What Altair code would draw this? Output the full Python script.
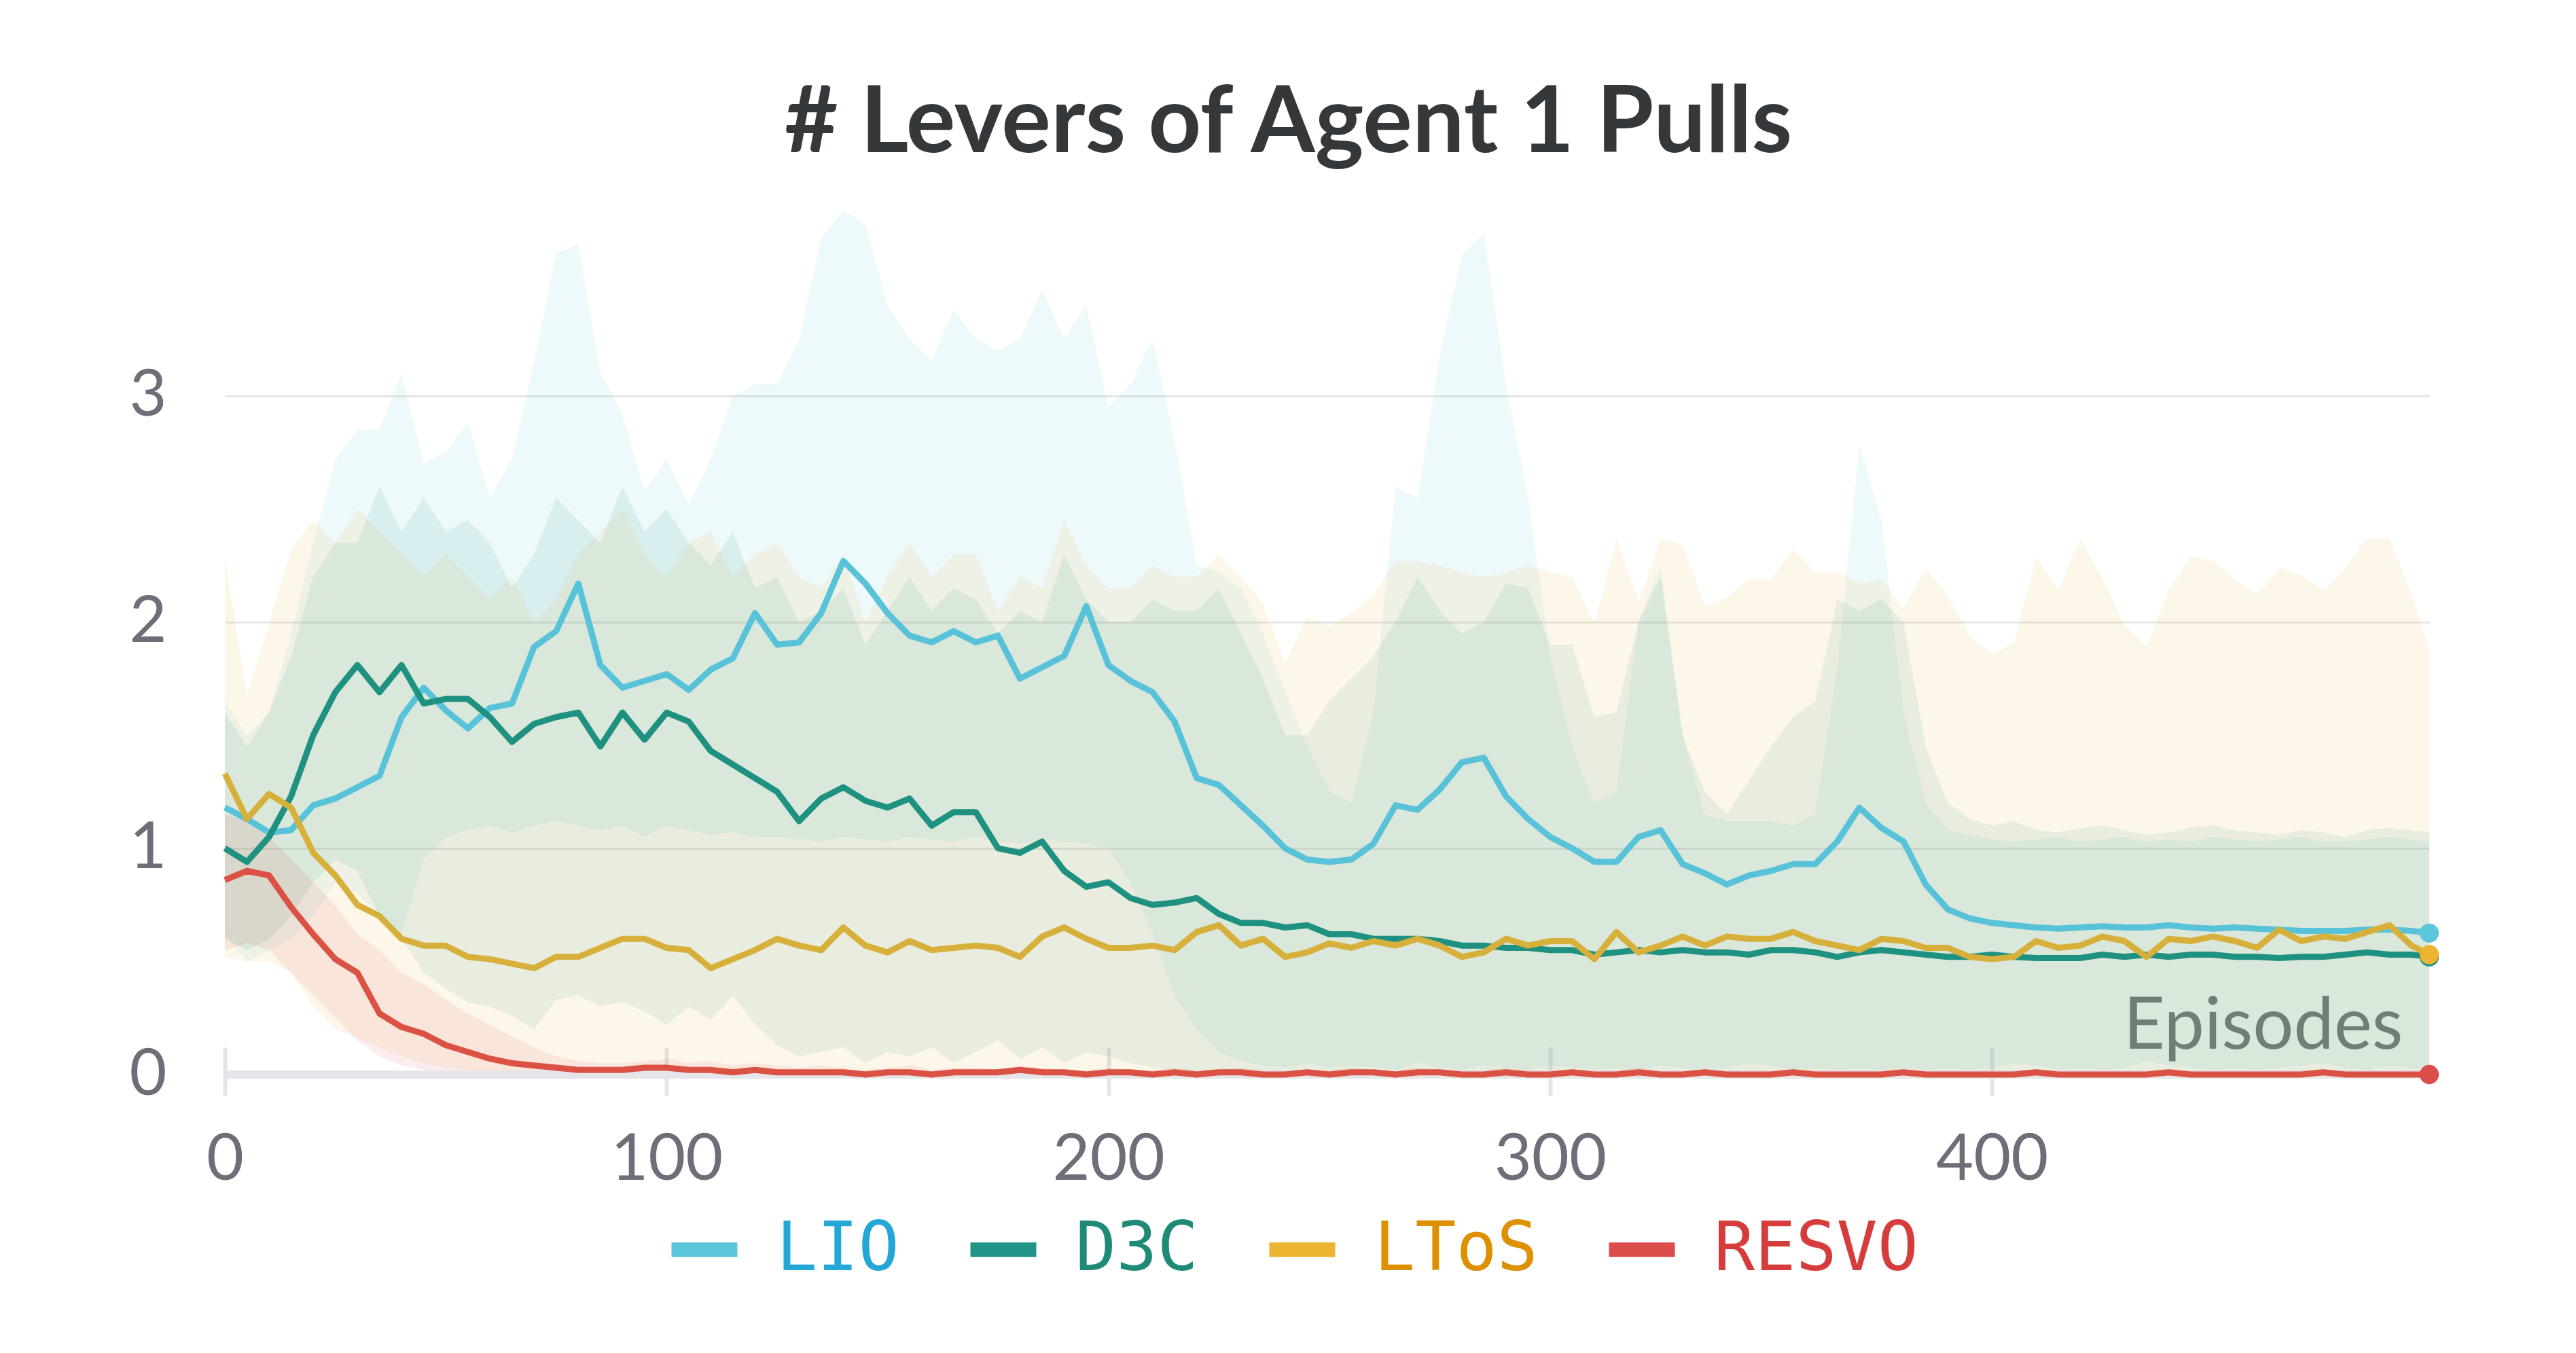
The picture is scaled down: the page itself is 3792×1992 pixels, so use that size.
import altair as alt
import pandas as pd

EPISODES = [0, 5, 10, 15, 20, 25, 30, 35, 40, 45, 50, 55, 60, 65, 70, 75, 80, 85, 90, 95,
            100, 105, 110, 115, 120, 125, 130, 135, 140, 145, 150, 155, 160, 165, 170, 175, 180, 185, 190, 195,
            200, 205, 210, 215, 220, 225, 230, 235, 240, 245, 250, 255, 260, 265, 270, 275, 280, 285, 290, 295,
            300, 305, 310, 315, 320, 325, 330, 335, 340, 345, 350, 355, 360, 365, 370, 375, 380, 385, 390, 395,
            400, 405, 410, 415, 420, 425, 430, 435, 440, 445, 450, 455, 460, 465, 470, 475, 480, 485, 490, 495,
            499]

METHODS = ["LIO", "D3C", "LToS", "RESVO"]

LIO_MEAN = [1.18, 1.13, 1.07, 1.08, 1.19, 1.22, 1.27, 1.32, 1.58, 1.71, 1.61, 1.53, 1.62, 1.64, 1.89, 1.96, 2.17, 1.81, 1.71, 1.74,
            1.77, 1.70, 1.79, 1.84, 2.04, 1.90, 1.91, 2.04, 2.27, 2.17, 2.04, 1.94, 1.91, 1.96, 1.91, 1.94, 1.75, 1.80, 1.85, 2.07,
            1.81, 1.74, 1.69, 1.56, 1.31, 1.28, 1.19, 1.10, 1.00, 0.95, 0.94, 0.95, 1.02, 1.19, 1.17, 1.26, 1.38, 1.40, 1.23, 1.13,
            1.05, 1.00, 0.94, 0.94, 1.05, 1.08, 0.93, 0.89, 0.84, 0.88, 0.90, 0.93, 0.93, 1.03, 1.18, 1.09, 1.03, 0.84, 0.73, 0.69,
            0.67, 0.66, 0.65, 0.645, 0.65, 0.655, 0.65, 0.65, 0.66, 0.65, 0.645, 0.65, 0.645, 0.64, 0.635, 0.635, 0.635, 0.64, 0.64, 0.635,
            0.625]
LIO_LO = [0.62, 0.50, 0.55, 0.60, 0.70, 0.85, 0.80, 0.70, 0.62, 0.95, 1.05, 1.08, 1.10, 1.07, 1.10, 1.12, 1.10, 1.08, 1.10, 1.05,
          1.10, 1.08, 1.06, 1.07, 1.05, 1.05, 1.04, 1.03, 1.05, 1.04, 1.03, 1.05, 1.04, 1.03, 1.05, 1.03, 1.02, 1.04, 1.03, 1.02,
          1.00, 0.85, 0.62, 0.35, 0.20, 0.10, 0.06, 0.04, 0.03, 0.05, 0.03, 0.04, 0.03, 0.02, 0.05, 0.03, 0.02, 0.04, 0.03, 0.02,
          0.04, 0.03, 0.02, 0.03, 0.02, 0.04, 0.03, 0.02, 0.03, 0.05, 0.04, 0.02, 0.03, 0.02, 0.03, 0.02, 0.03, 0.02, 0.03, 0.02,
          0.03, 0.05, 0.04, 0.02, 0.03, 0.02, 0.03, 0.06, 0.04, 0.03, 0.02, 0.03, 0.02, 0.03, 0.04, 0.05, 0.03, 0.02, 0.04, 0.03,
          0.02]
LIO_HI = [1.65, 1.50, 1.60, 1.95, 2.35, 2.72, 2.85, 2.85, 3.10, 2.70, 2.75, 2.88, 2.55, 2.72, 3.15, 3.63, 3.67, 3.10, 2.92, 2.58,
          2.72, 2.52, 2.72, 3.00, 3.05, 3.05, 3.25, 3.70, 3.82, 3.76, 3.40, 3.25, 3.16, 3.38, 3.25, 3.20, 3.25, 3.47, 3.25, 3.40,
          2.95, 3.05, 3.25, 2.80, 2.25, 2.22, 2.15, 1.95, 1.70, 1.45, 1.25, 1.20, 1.60, 2.60, 2.55, 3.18, 3.62, 3.72, 3.05, 2.55,
          1.85, 1.45, 1.20, 1.25, 2.00, 2.25, 1.50, 1.15, 1.12, 1.12, 1.12, 1.10, 1.15, 1.80, 2.78, 2.45, 1.60, 1.20, 1.08, 1.06,
          1.04, 1.03, 1.04, 1.05, 1.03, 1.04, 1.05, 1.03, 1.04, 1.03, 1.05, 1.04, 1.03, 1.04, 1.05, 1.03, 1.03, 1.04, 1.05, 1.04,
          1.03]

D3C_MEAN = [1.00, 0.94, 1.05, 1.23, 1.50, 1.69, 1.81, 1.69, 1.81, 1.64, 1.66, 1.66, 1.58, 1.47, 1.55, 1.58, 1.60, 1.45, 1.60, 1.48,
            1.60, 1.56, 1.43, 1.37, 1.31, 1.25, 1.12, 1.22, 1.27, 1.21, 1.18, 1.22, 1.10, 1.16, 1.16, 1.00, 0.98, 1.03, 0.90, 0.83,
            0.85, 0.78, 0.75, 0.76, 0.78, 0.71, 0.67, 0.67, 0.65, 0.66, 0.62, 0.62, 0.60, 0.60, 0.60, 0.59, 0.57, 0.57, 0.56, 0.56,
            0.55, 0.55, 0.53, 0.54, 0.55, 0.54, 0.55, 0.54, 0.54, 0.53, 0.55, 0.55, 0.54, 0.52, 0.54, 0.55, 0.54, 0.53, 0.52, 0.52,
            0.53, 0.52, 0.515, 0.515, 0.515, 0.53, 0.52, 0.53, 0.52, 0.53, 0.53, 0.52, 0.52, 0.515, 0.52, 0.52, 0.53, 0.54, 0.53, 0.53,
            0.52]
D3C_LO = [0.60, 0.55, 0.60, 0.70, 0.85, 0.95, 0.90, 0.70, 0.60, 0.45, 0.38, 0.32, 0.30, 0.26, 0.20, 0.33, 0.35, 0.30, 0.32, 0.28,
          0.22, 0.30, 0.24, 0.35, 0.22, 0.13, 0.08, 0.10, 0.12, 0.05, 0.10, 0.08, 0.12, 0.05, 0.10, 0.15, 0.07, 0.12, 0.05, 0.10,
          0.08, 0.05, 0.03, 0.02, 0.01, 0.0, 0.0, 0.0, 0.0, 0.0, 0.0, 0.0, 0.0, 0.0, 0.0, 0.0, 0.0, 0.0, 0.0, 0.0,
          0.0, 0.0, 0.0, 0.0, 0.0, 0.0, 0.0, 0.0, 0.0, 0.0, 0.0, 0.0, 0.0, 0.0, 0.0, 0.0, 0.0, 0.0, 0.0, 0.0,
          0.0, 0.0, 0.0, 0.0, 0.0, 0.0, 0.0, 0.0, 0.0, 0.0, 0.0, 0.0, 0.0, 0.0, 0.0, 0.0, 0.0, 0.0, 0.0, 0.0,
          0.0]
D3C_HI = [1.60, 1.45, 1.60, 1.85, 2.20, 2.35, 2.35, 2.60, 2.40, 2.55, 2.40, 2.45, 2.35, 2.15, 2.30, 2.55, 2.45, 2.35, 2.60, 2.40,
          2.50, 2.35, 2.25, 2.40, 2.15, 2.20, 2.00, 2.05, 2.15, 1.90, 2.05, 2.20, 2.05, 2.15, 2.10, 1.95, 2.05, 2.00, 2.30, 2.10,
          2.00, 2.00, 2.10, 2.05, 2.05, 2.15, 1.95, 1.75, 1.50, 1.50, 1.65, 1.75, 1.85, 2.00, 2.20, 2.05, 1.95, 2.00, 2.17, 2.15,
          1.90, 1.90, 1.58, 1.60, 2.00, 2.20, 1.50, 1.25, 1.15, 1.30, 1.45, 1.58, 1.65, 2.10, 2.05, 2.10, 2.00, 1.45, 1.20, 1.13,
          1.10, 1.12, 1.08, 1.07, 1.09, 1.10, 1.08, 1.06, 1.07, 1.09, 1.10, 1.08, 1.07, 1.06, 1.08, 1.07, 1.05, 1.08, 1.09, 1.08,
          1.07]

LTOS_MEAN = [1.33, 1.13, 1.24, 1.18, 0.98, 0.88, 0.75, 0.70, 0.60, 0.57, 0.57, 0.52, 0.51, 0.49, 0.47, 0.52, 0.52, 0.56, 0.60, 0.60,
             0.56, 0.55, 0.47, 0.51, 0.55, 0.60, 0.57, 0.55, 0.65, 0.57, 0.54, 0.59, 0.55, 0.56, 0.57, 0.56, 0.52, 0.61, 0.65, 0.60,
             0.56, 0.56, 0.57, 0.55, 0.63, 0.66, 0.57, 0.60, 0.52, 0.54, 0.58, 0.56, 0.59, 0.57, 0.60, 0.57, 0.52, 0.54, 0.60, 0.57,
             0.59, 0.59, 0.51, 0.63, 0.54, 0.57, 0.61, 0.57, 0.61, 0.60, 0.60, 0.63, 0.59, 0.57, 0.55, 0.60, 0.59, 0.56, 0.56, 0.52,
             0.51, 0.52, 0.59, 0.56, 0.57, 0.61, 0.59, 0.52, 0.60, 0.59, 0.61, 0.59, 0.56, 0.64, 0.59, 0.61, 0.60, 0.63, 0.66, 0.57,
             0.53]
LTOS_LO = [0.52, 0.50, 0.50, 0.45, 0.30, 0.20, 0.16, 0.12, 0.08, 0.05, 0.03, 0.02, 0.0, 0.0, 0.0, 0.0, 0.0, 0.0, 0.0, 0.0,
           0.0, 0.0, 0.0, 0.0, 0.0, 0.0, 0.0, 0.0, 0.0, 0.0, 0.0, 0.0, 0.0, 0.0, 0.0, 0.0, 0.0, 0.0, 0.0, 0.0,
           0.0, 0.0, 0.0, 0.0, 0.0, 0.0, 0.0, 0.0, 0.0, 0.0, 0.0, 0.0, 0.0, 0.0, 0.0, 0.0, 0.0, 0.0, 0.0, 0.0,
           0.0, 0.0, 0.0, 0.0, 0.0, 0.0, 0.0, 0.0, 0.0, 0.0, 0.0, 0.0, 0.0, 0.0, 0.0, 0.0, 0.0, 0.0, 0.0, 0.0,
           0.0, 0.0, 0.0, 0.0, 0.0, 0.0, 0.0, 0.0, 0.0, 0.0, 0.0, 0.0, 0.0, 0.0, 0.0, 0.0, 0.0, 0.0, 0.0, 0.0,
           0.0]
LTOS_HI = [2.29, 1.68, 1.99, 2.32, 2.45, 2.35, 2.50, 2.40, 2.30, 2.20, 2.30, 2.20, 2.10, 2.20, 2.00, 2.10, 2.30, 2.40, 2.50, 2.30,
           2.20, 2.35, 2.40, 2.20, 2.30, 2.35, 2.20, 2.15, 2.30, 2.00, 2.20, 2.35, 2.20, 2.30, 2.30, 2.05, 2.20, 2.15, 2.45, 2.25,
           2.15, 2.15, 2.25, 2.20, 2.20, 2.30, 2.20, 2.08, 1.82, 2.02, 1.98, 2.04, 2.12, 2.27, 2.27, 2.25, 2.22, 2.20, 2.22, 2.25,
           2.22, 2.20, 1.99, 2.37, 2.09, 2.37, 2.34, 2.07, 2.11, 2.19, 2.19, 2.32, 2.22, 2.22, 2.17, 2.19, 2.06, 2.24, 2.12, 1.94,
           1.86, 1.91, 2.29, 2.14, 2.37, 2.19, 1.99, 1.89, 2.14, 2.29, 2.27, 2.19, 2.12, 2.24, 2.21, 2.14, 2.24, 2.37, 2.37, 2.12,
           1.88]

RESVO_MEAN = [0.86, 0.90, 0.88, 0.74, 0.62, 0.51, 0.45, 0.27, 0.21, 0.18, 0.13, 0.10, 0.07, 0.05, 0.04, 0.03, 0.02, 0.02, 0.02, 0.03,
              0.03, 0.02, 0.02, 0.01, 0.02, 0.01, 0.01, 0.01, 0.01, 0.00, 0.01, 0.01, 0.00, 0.01, 0.01, 0.01, 0.02, 0.01, 0.01, 0.00,
              0.01, 0.01, 0.00, 0.01, 0.00, 0.01, 0.01, 0.00, 0.00, 0.01, 0.00, 0.01, 0.01, 0.00, 0.01, 0.01, 0.00, 0.00, 0.01, 0.00,
              0.00, 0.01, 0.00, 0.00, 0.01, 0.00, 0.00, 0.01, 0.00, 0.00, 0.00, 0.01, 0.00, 0.00, 0.00, 0.00, 0.01, 0.00, 0.00, 0.00,
              0.00, 0.00, 0.01, 0.00, 0.00, 0.00, 0.00, 0.00, 0.01, 0.00, 0.00, 0.00, 0.00, 0.00, 0.00, 0.01, 0.00, 0.00, 0.00, 0.00,
              0.00]
RESVO_LO = [0.55, 0.58, 0.55, 0.45, 0.35, 0.25, 0.15, 0.08, 0.04, 0.02, 0.0, 0.0, 0.0, 0.0, 0.0, 0.0, 0.0, 0.0, 0.0, 0.0,
            0.0, 0.0, 0.0, 0.0, 0.0, 0.0, 0.0, 0.0, 0.0, 0.0, 0.0, 0.0, 0.0, 0.0, 0.0, 0.0, 0.0, 0.0, 0.0, 0.0,
            0.0, 0.0, 0.0, 0.0, 0.0, 0.0, 0.0, 0.0, 0.0, 0.0, 0.0, 0.0, 0.0, 0.0, 0.0, 0.0, 0.0, 0.0, 0.0, 0.0,
            0.0, 0.0, 0.0, 0.0, 0.0, 0.0, 0.0, 0.0, 0.0, 0.0, 0.0, 0.0, 0.0, 0.0, 0.0, 0.0, 0.0, 0.0, 0.0, 0.0,
            0.0, 0.0, 0.0, 0.0, 0.0, 0.0, 0.0, 0.0, 0.0, 0.0, 0.0, 0.0, 0.0, 0.0, 0.0, 0.0, 0.0, 0.0, 0.0, 0.0,
            0.0]
RESVO_HI = [1.15, 1.12, 1.05, 0.95, 0.85, 0.75, 0.62, 0.55, 0.45, 0.40, 0.33, 0.27, 0.22, 0.17, 0.12, 0.08, 0.06, 0.05, 0.05, 0.06,
            0.07, 0.05, 0.06, 0.04, 0.05, 0.04, 0.03, 0.04, 0.03, 0.02, 0.03, 0.04, 0.02, 0.03, 0.03, 0.02, 0.04, 0.03, 0.02, 0.02,
            0.03, 0.02, 0.02, 0.03, 0.02, 0.02, 0.03, 0.02, 0.02, 0.02, 0.02, 0.03, 0.02, 0.02, 0.03, 0.02, 0.02, 0.02, 0.03, 0.02,
            0.02, 0.02, 0.02, 0.02, 0.03, 0.02, 0.02, 0.02, 0.02, 0.02, 0.02, 0.02, 0.02, 0.02, 0.02, 0.02, 0.02, 0.02, 0.02, 0.02,
            0.02, 0.02, 0.02, 0.02, 0.02, 0.02, 0.02, 0.02, 0.02, 0.02, 0.02, 0.02, 0.02, 0.02, 0.02, 0.02, 0.02, 0.02, 0.02, 0.02,
            0.02]

X_TICKS = [0, 100, 200, 300, 400]
Y_TICKS = [0, 1, 2, 3]

SYMBOL_COLORS = ["#5bc5db", "#229487", "#ecb430", "#dc4d4b"]
LINE_COLORS = ["#58c2d9", "#1f9180", "#d6b03a", "#db5244"]
LABEL_COLORS = ["#22a7d6", "#1f8a78", "#dd9000", "#d73c3c"]

SERIES = {
    "LIO": (LIO_MEAN, LIO_LO, LIO_HI),
    "D3C": (D3C_MEAN, D3C_LO, D3C_HI),
    "LToS": (LTOS_MEAN, LTOS_LO, LTOS_HI),
    "RESVO": (RESVO_MEAN, RESVO_LO, RESVO_HI),
}

rows = []
for name in METHODS:
    m, lo, hi = SERIES[name]
    assert len(m) == len(lo) == len(hi) == len(EPISODES), name
    for e, a, b, c in zip(EPISODES, m, lo, hi):
        rows.append({"episode": e, "method": name, "mean": a, "lo": b, "hi": c})
df = pd.DataFrame(rows)
last_ep = EPISODES[-1]

xscale = alt.Scale(domain=[0, last_ep], nice=False, zero=False)
yscale = alt.Scale(domain=[0, 3.9], nice=False)
cscale = alt.Scale(domain=METHODS, range=SYMBOL_COLORS)
sscale = alt.Scale(domain=METHODS, range=LINE_COLORS)

xaxis = alt.Axis(values=X_TICKS, grid=False, domain=False, ticks=True, tickColor="#e4e4ea",
                 tickWidth=6, tickSize=71, offset=-40, labelFont="Lato", labelFontSize=95,
                 labelColor="#6e6e78", labelPadding=48, labelFlush=False, labelOverlap=False,
                 title="Episodes", titleFont="Lato", titleFontSize=106, titleFontWeight="normal",
                 titleColor="#6e6e78", titleAlign="right", titleAnchor="start", titleX=3206, titleY=1,
                 titleBaseline="alphabetic")
yaxis = alt.Axis(values=Y_TICKS, domain=False, ticks=False, grid=True, gridColor="#e6e6e6",
                 gridWidth=3, labelFont="Lato", labelFontSize=95, labelColor="#6e6e78",
                 labelPadding=86, title=None)

X = alt.X("episode:Q", scale=xscale, axis=xaxis)

label_expr = " : ".join(
    f"datum.label == '{m}' ? '{c}'" for m, c in zip(METHODS[:-1], LABEL_COLORS[:-1])
) + f" : '{LABEL_COLORS[-1]}'"

legend = alt.Legend(
    title=None, orient="none", legendX=656, legendY=1507, direction="horizontal", columns=4,
    symbolType="M-1,-0.22L1,-0.22L1,0.22L-1,0.22Z", symbolSize=9409, symbolStrokeWidth=0,
    symbolOpacity=1, labelFont="DejaVu Sans Mono", labelFontSize=100, labelOffset=56,
    labelLimit=2000, columnPadding=103, labelColor={"expr": label_expr}, padding=0)

bands = alt.Chart(df).mark_area(opacity=0.1, interpolate="linear").encode(
    x=X,
    y=alt.Y("lo:Q", scale=yscale, axis=yaxis),
    y2="hi:Q",
    color=alt.Color("method:N", scale=cscale, legend=legend),
)

zero_line = alt.Chart(pd.DataFrame({"v": [0]})).mark_rule(color="#e5e5ea", strokeWidth=12).encode(
    y=alt.Y("v:Q", scale=yscale, axis=yaxis)
)

lines = alt.Chart(df).mark_line(strokeWidth=9, strokeJoin="round").encode(
    x=X,
    y=alt.Y("mean:Q", scale=yscale, axis=yaxis),
    stroke=alt.Stroke("method:N", scale=sscale, legend=None),
)

dots = alt.Chart(df).transform_filter(alt.datum.episode == last_ep).mark_circle(size=800, opacity=1).encode(
    x=X,
    y=alt.Y("mean:Q", scale=yscale, axis=yaxis),
    color=alt.Color("method:N", scale=cscale, legend=legend),
)

chart = alt.layer(bands, zero_line, lines, dots).properties(
    width=3245,
    height=1299,
    padding={"left": 323, "top": 275, "right": 200, "bottom": 395},
    autosize=alt.AutoSizeParams(type="none"),
    title=alt.TitleParams("# Levers of Agent 1 Pulls", font="Lato", fontSize=136, fontWeight="bold",
                          color="#35383b", anchor="middle", dx=-57, offset=30),
    background="white",
).configure_view(stroke=None)

chart.save("out.html", embed_options={"renderer": "svg", "actions": False})
